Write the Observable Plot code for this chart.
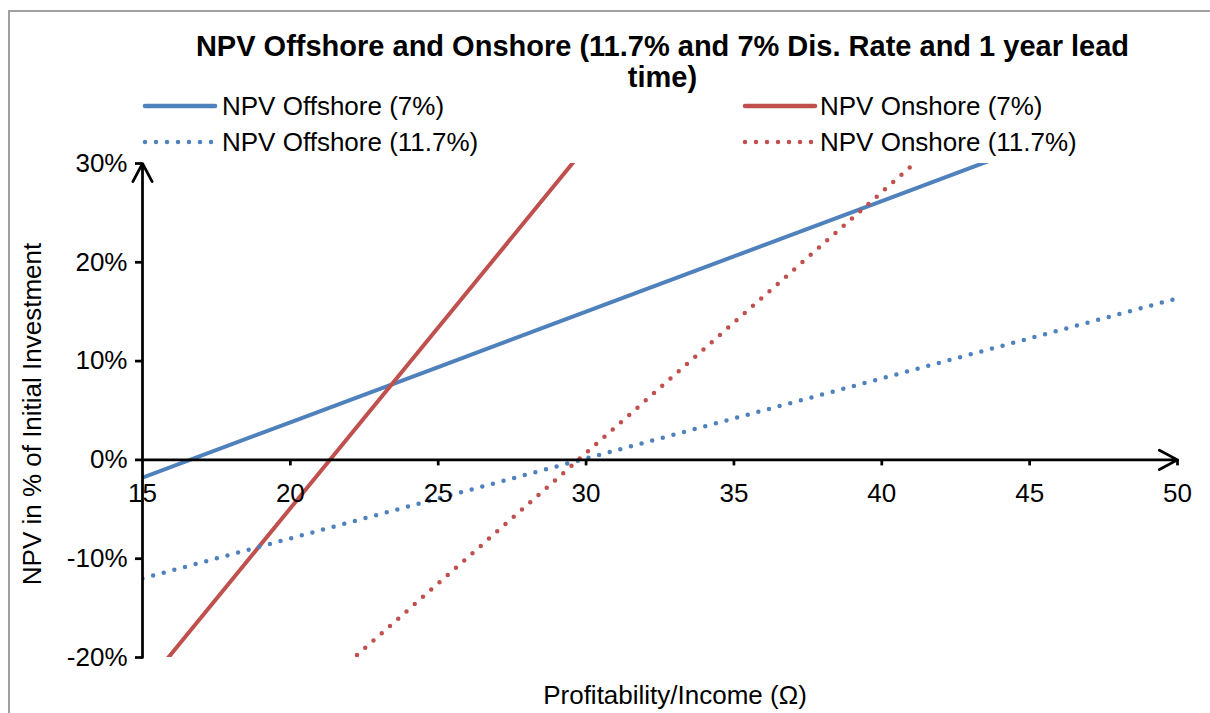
<!DOCTYPE html>
<html>
<head>
<meta charset="utf-8">
<script src="https://cdn.jsdelivr.net/npm/d3@7"></script>
<script src="https://cdn.jsdelivr.net/npm/@observablehq/plot@0.6"></script>
<style>
  html, body { margin: 0; padding: 0; background: #fff; }
  #wrap { position: relative; width: 1210px; height: 713px; overflow: hidden; font-family: Arial, "Liberation Sans", sans-serif; color: #000; }
  #frame { position: absolute; left: 8px; top: 10px; right: -5px; bottom: -5px; border-left: 2px solid #a0a0a0; border-top: 2px solid #a0a0a0; }
  #title { position: absolute; left: 100px; width: 1125px; top: 31px; text-align: center; font-weight: bold; font-size: 29px; line-height: 31px; white-space: nowrap; }
  .legsw { position: absolute; }
  .legtx { position: absolute; font-size: 26px; line-height: 30px; white-space: nowrap; }
  #ytitle { position: absolute; left: 32px; top: 414px; transform: translate(-50%, -50%) rotate(-90deg); white-space: nowrap; font-size: 26px; }
  #xtitle { position: absolute; left: 675px; top: 695px; transform: translate(-50%, -50%); white-space: nowrap; font-size: 26px; }
  #chart { position: absolute; left: 0; top: 0; }
</style>
</head>
<body>
<div id="wrap">
  <div id="frame"></div>
  <div id="chart"></div>
  <div id="title"></div>
  <div id="legend"></div>
  <div id="ytitle"></div>
  <div id="xtitle"></div>
</div>
<script>
// ---- data ----
const xValues = [15, 20, 25, 30, 35, 40, 45, 50];
const offshore7 = [-1.8, 3.8, 9.4, 15.0, 20.6, 26.2, 31.8, 37.4];
const onshore7 = [-23.2, -4.9, 13.4, 31.7, 50.0, 68.3, 86.6, 104.9];
const offshore117 = [-12.0, -7.95, -3.9, 0.15, 4.2, 8.25, 12.3, 16.35];
const onshore117 = [-38.9, -25.7, -12.5, 0.7, 13.9, 27.1, 40.3, 53.5];

const seriesNames = ["NPV Offshore (7%)", "NPV Onshore (7%)", "NPV Offshore (11.7%)", "NPV Onshore (11.7%)"];
const seriesValues = [offshore7, onshore7, offshore117, onshore117];
const seriesColors = ["#4F81BD", "#C0504D", "#4F81BD", "#C0504D"];
const seriesDotted = [false, false, true, true];

const xTicks = [15, 20, 25, 30, 35, 40, 45, 50];
const yTicks = [-20, -10, 0, 10, 20, 30];
const xDomain = [15, 50];
const yDomain = [-20, 30];

const titleLines = ["NPV Offshore and Onshore (11.7% and 7% Dis. Rate and 1 year lead", "time)"];
const xTitle = "Profitability/Income (\u03A9)";
const yTitle = "NPV in % of Initial Investment";

// ---- build table ----
const rows = [];
seriesNames.forEach((name, s) => {
  xValues.forEach((x, i) => rows.push({series: name, s, x, y: seriesValues[s][i]}));
});

const lineMarks = seriesNames.map((name, s) =>
  Plot.line(rows.filter(d => d.s === s), {
    x: "x", y: "y",
    stroke: seriesColors[s],
    strokeWidth: seriesDotted[s] ? 4.5 : 4,
    strokeDasharray: seriesDotted[s] ? "0 11" : null,
    strokeLinecap: "round",
    clip: true
  })
);

const axisColor = "#000";
const axisW = 2.75;
const chart = Plot.plot({
  width: 1210,
  height: 713,
  marginLeft: 142,
  marginRight: 33,
  marginTop: 163,
  marginBottom: 56,
  style: {fontFamily: "Arial, 'Liberation Sans', sans-serif", fontSize: "26px", background: "transparent", overflow: "visible"},
  x: {domain: xDomain, axis: null},
  y: {domain: yDomain, axis: null},
  marks: [
    ...lineMarks,
    // x axis line with arrow
    Plot.arrow([{x1: xDomain[0], x2: xDomain[1], y: 0}], {x1: "x1", x2: "x2", y1: "y", y2: "y", stroke: axisColor, strokeWidth: axisW, headLength: 11.2, headAngle: 56}),
    // y axis line with arrow
    Plot.arrow([{x: xDomain[0], y1: yDomain[0], y2: yDomain[1]}], {x1: "x", x2: "x", y1: "y1", y2: "y2", stroke: axisColor, strokeWidth: axisW, headLength: 11.2, headAngle: 56}),
    // x ticks
    Plot.ruleX(xTicks.filter(d => d !== xDomain[0]), {x: d => d, y1: 0, y2: 0, insetBottom: -6, stroke: axisColor, strokeWidth: axisW}),
    // y ticks
    Plot.ruleY(yTicks, {y: d => d, x1: xDomain[0], x2: xDomain[0], insetLeft: -7, stroke: axisColor, strokeWidth: axisW}),
    // x tick labels
    Plot.text(xTicks, {x: d => d, y: 0, dy: 34, text: d => String(d), fill: "#000", fontSize: 26}),
    // y tick labels
    Plot.text(yTicks, {x: xDomain[0], y: d => d, dx: -15, textAnchor: "end", text: d => d + "%", fill: "#000", fontSize: 26})
  ]
});
document.getElementById("chart").appendChild(chart);

// ---- title and axis titles ----
document.getElementById("title").innerHTML = titleLines.map(t => `<div>${t}</div>`).join("");
document.getElementById("xtitle").textContent = xTitle;
document.getElementById("ytitle").textContent = yTitle;

// ---- legend ----
const legendSw = [[145, 106], [745, 106], [145, 142], [745, 142]];
const legendTx = [222, 820, 222, 820];
const legend = document.getElementById("legend");
seriesNames.forEach((name, s) => {
  const sw = document.createElement("div");
  sw.className = "legsw";
  sw.style.left = (legendSw[s][0] - 3) + "px";
  sw.style.top = (legendSw[s][1] - 6) + "px";
  const dash = seriesDotted[s] ? `stroke-dasharray="0 11"` : "";
  sw.innerHTML = `<svg width="76" height="12" style="display:block"><line x1="3" y1="6" x2="73" y2="6" stroke="${seriesColors[s]}" stroke-width="4.5" stroke-linecap="round" ${dash}/></svg>`;
  legend.appendChild(sw);
  const tx = document.createElement("div");
  tx.className = "legtx";
  tx.style.left = legendTx[s] + "px";
  tx.style.top = (legendSw[s][1] - 15) + "px";
  tx.textContent = name;
  legend.appendChild(tx);
});
</script>
</body>
</html>
